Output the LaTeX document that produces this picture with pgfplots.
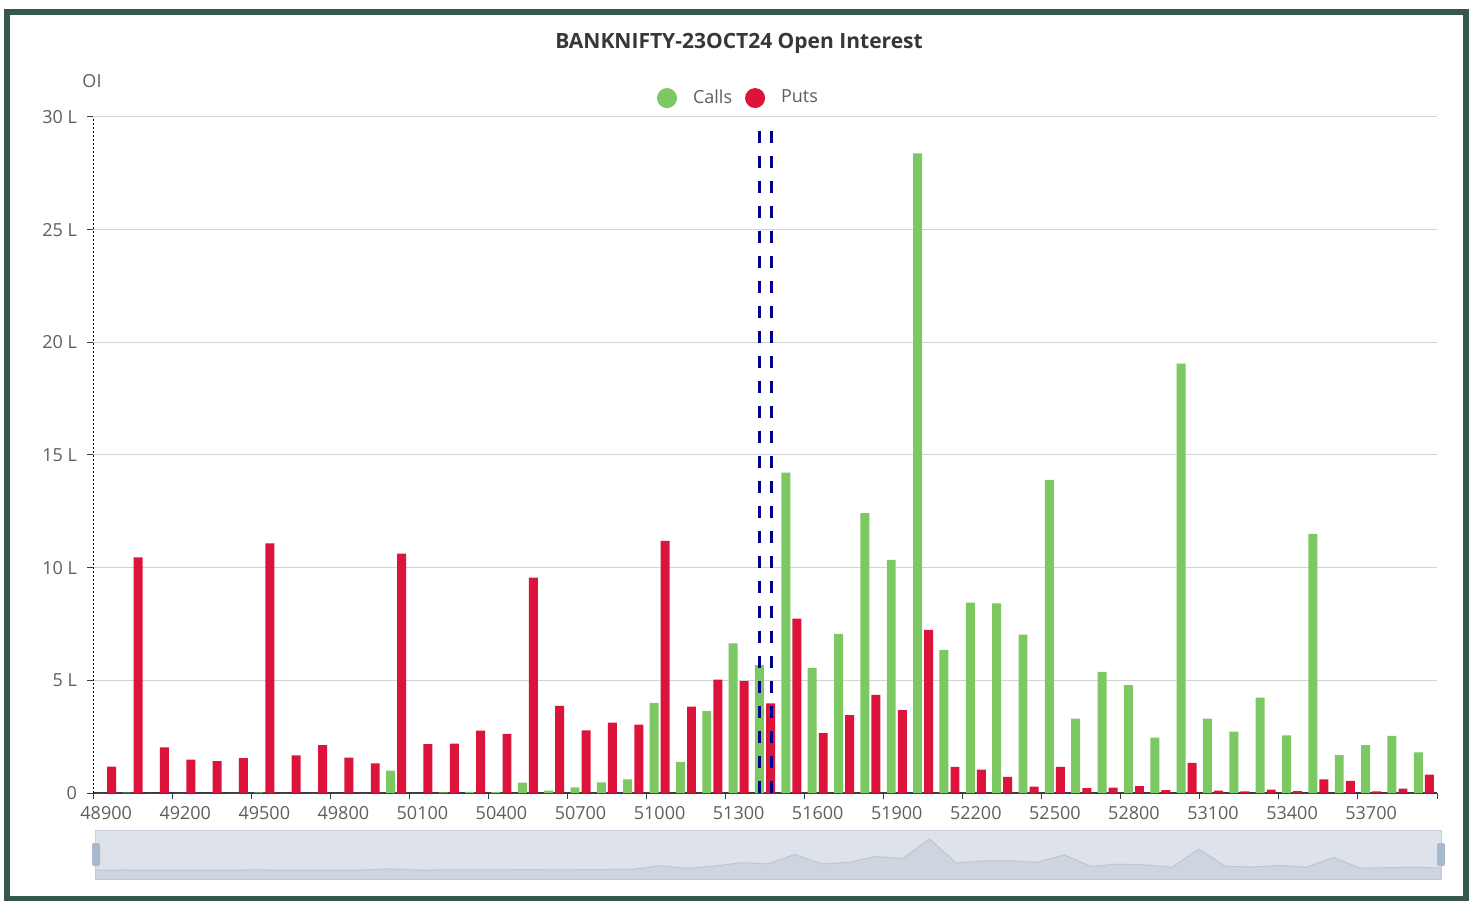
\documentclass[border=0pt]{standalone}
\usepackage{fontspec}
\setmainfont{Open Sans}
\usepackage{pgfplots}
\pgfplotsset{compat=1.18}
\usepackage{pgfplotstable}

\definecolor{callc}{RGB}{124,200,98}
\definecolor{putc}{RGB}{220,20,60}
\definecolor{framec}{RGB}{54,87,75}
\definecolor{navyd}{RGB}{0,0,139}
\definecolor{axisgray}{RGB}{60,60,60}
\definecolor{gridgray}{RGB}{210,210,210}
\definecolor{labelgray}{RGB}{95,95,95}
\definecolor{titlegray}{RGB}{55,55,55}
\definecolor{sliderbg}{RGB}{221,226,235}
\definecolor{sliderborder}{RGB}{200,207,218}
\definecolor{sliderarea}{RGB}{207,213,223}
\definecolor{sliderline}{RGB}{190,198,210}
\definecolor{handlec}{RGB}{168,184,206}

\pgfplotstableread{
strike calls puts
48900 0 1.17
49000 0.02 10.46
49100 0 2.03
49200 0 1.48
49300 0 1.41
49400 0 1.55
49500 0.03 11.08
49600 0 1.67
49700 0 2.13
49800 0 1.57
49900 0 1.32
50000 0.99 10.62
50100 0 2.17
50200 0.03 2.19
50300 0.05 2.77
50400 0.04 2.62
50500 0.46 9.56
50600 0.10 3.87
50700 0.25 2.78
50800 0.47 3.12
50900 0.61 3.03
51000 4.00 11.19
51100 1.38 3.83
51200 3.63 5.03
51300 6.64 4.96
51400 5.68 3.98
51500 14.22 7.74
51600 5.55 2.66
51700 7.06 3.46
51800 12.42 4.36
51900 10.35 3.68
52000 28.38 7.24
52100 6.35 1.16
52200 8.45 1.04
52300 8.41 0.72
52400 7.03 0.28
52500 13.90 1.16
52600 3.30 0.22
52700 5.37 0.24
52800 4.79 0.31
52900 2.46 0.13
53000 19.05 1.34
53100 3.30 0.10
53200 2.72 0.07
53300 4.23 0.15
53400 2.56 0.08
53500 11.50 0.61
53600 1.68 0.54
53700 2.13 0.07
53800 2.54 0.19
53900 1.80 0.82
}\oidata

\begin{document}
\begin{tikzpicture}[x=0.5pt,y=0.5pt]
\fill[white] (0,0) rectangle (1477,900);
\useasboundingbox (0,0) rectangle (1477,900);

\begin{axis}[
  at={(46.5pt,53.5pt)}, anchor=south west,
  scale only axis, width=672pt, height=338pt,
  xmin=48850, xmax=53950, ymin=0, ymax=30,
  axis lines=left,
  axis line style={-},
  x axis line style={draw=axisgray, line width=0.6pt},
  y axis line style={draw=black, line width=0.5pt, dash pattern=on 1pt off 1pt},
  xtick={48900,49200,...,53700},
  minor xtick={48850,49150,...,53950},
  major x tick style={draw=none},
  scaled x ticks=false,
  ytick={0,5,...,30},
  yticklabels={0,5 L,10 L,15 L,20 L,25 L,30 L},
  tick align=outside,
  major tick length=3pt, minor tick length=3pt,
  tick style={draw=axisgray, line width=0.5pt},
  ymajorgrids, grid style={draw=gridgray, line width=0.5pt},
  xticklabel style={font=\fontsize{9}{10}\selectfont, text=labelgray},
  yticklabel style={font=\fontsize{9}{10}\selectfont, text=labelgray, xshift=-1.5pt},
  /pgf/number format/1000 sep={},
  /pgf/number format/assume math mode=true,
  legend style={at={(0.481,1.028)}, anchor=center, draw=none, fill=none,
    legend columns=-1, font=\fontsize{9}{10}\selectfont, text=labelgray,
    /tikz/every even column/.append style={column sep=4.5pt}},
  clip=false,
]
\addplot[ybar, bar width=34, bar shift=0pt, fill=callc, draw=none,
  legend image code/.code={\fill[callc] (2pt,0pt) circle (5pt); \path (13pt,0pt);}]
  table[x expr=\thisrow{strike}-21, y=calls] {\oidata};
\addlegendentry{Calls}
\addplot[ybar, bar width=34, bar shift=0pt, fill=putc, draw=none,
  legend image code/.code={\fill[putc] (2pt,0pt) circle (5pt); \path (13pt,0pt);}]
  table[x expr=\thisrow{strike}+21, y=puts] {\oidata};
\addlegendentry{Puts}
\addplot[forget plot, navyd, line width=1.4pt, dash pattern=on 6.3pt off 6.2pt]
  coordinates {(51380,29.4) (51380,0)};
\addplot[forget plot, navyd, line width=1.4pt, dash pattern=on 6.3pt off 6.2pt]
  coordinates {(51425,29.4) (51425,0)};
\end{axis}

\node[font=\bfseries\fontsize{10.5}{12}\selectfont, text=titlegray] at (739,857) {BANKNIFTY-23OCT24 Open Interest};
\node[font=\fontsize{9}{10}\selectfont, text=labelgray] at (92,819) {OI};

% data zoom slider
\filldraw[fill=sliderbg, draw=sliderborder, line width=0.5pt] (95,20.7) rectangle (1441,69.3);
\begin{axis}[
  at={(47.5pt,10.35pt)}, anchor=south west,
  scale only axis, width=673pt, height=24.3pt,
  xmin=48900, xmax=53900, ymin=0, ymax=44.5,
  hide axis,
]
\addplot[fill=sliderarea, draw=sliderline, line width=0.5pt]
  table[x=strike, y expr=\thisrow{calls}+8.5] {\oidata} \closedcycle;
\end{axis}
\fill[handlec, rounded corners=1pt] (92,34) rectangle (100,57);
\fill[handlec, rounded corners=1pt] (1437,34) rectangle (1445,57);

\draw[framec, line width=3pt] (7,888) rectangle (1466,1.5);
\end{tikzpicture}
\end{document}
